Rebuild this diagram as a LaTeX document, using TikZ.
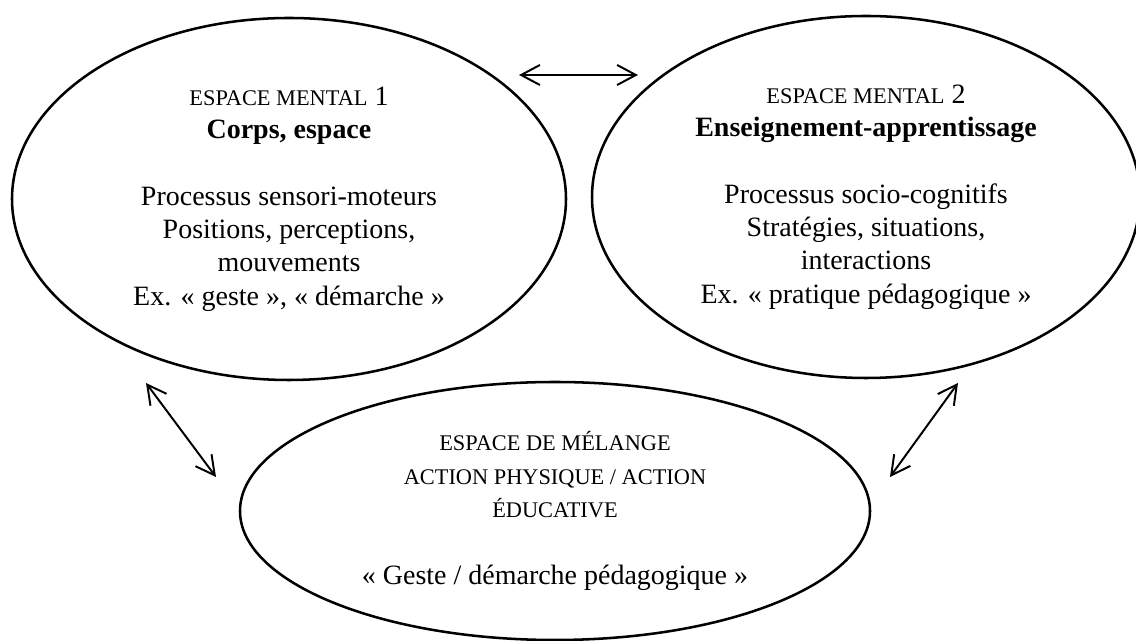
\documentclass[tikz,border=0pt]{standalone}
\usepackage{fontspec}
\setmainfont{Liberation Serif}
\usetikzlibrary{shapes.geometric,arrows.meta}
\newcommand{\petitcap}[1]{{\fontsize{15.9}{23.7}\selectfont #1}}

\begin{document}
\begin{tikzpicture}[
    bulle/.style={ellipse, draw, line width=1.8pt, inner sep=0pt, align=center,
      font=\fontsize{19.9}{23.7}\selectfont},
    lien/.style={{Straight Barb[length=0.47cm,width=0.5cm]}-{Straight Barb[length=0.47cm,width=0.5cm]}, line width=1.4pt}]
    \useasboundingbox (0,0) rectangle (28.4,16.025);

    % Espace mental 1 (left)
    \node[bulle, minimum width=13.85cm, minimum height=9.05cm] (m1) at (7.225,11.05)
      {\petitcap{ESPACE MENTAL} 1\\ \textbf{Corps, espace}\\[23.7pt]
       Processus sensori-moteurs\\ Positions, perceptions,\\ mouvements\\
       Ex. «~geste~», «~démarche~»};

    % Espace mental 2 (right, cut by the border)
    \node[bulle, minimum width=13.7cm, minimum height=9.05cm] (m2) at (21.65,11.1)
      {\petitcap{ESPACE MENTAL} 2\\ \textbf{Enseignement-apprentissage}\\[23.7pt]
       Processus socio-cognitifs\\ Stratégies, situations,\\ interactions\\
       Ex. «~pratique pédagogique~»};

    % Espace de melange (bottom)
    \node[bulle, minimum width=15.75cm, minimum height=6.45cm] (mel) at (13.875,3.25)
      {\petitcap{ESPACE DE MÉLANGE}\\ \petitcap{ACTION PHYSIQUE / ACTION}\\
       \petitcap{ÉDUCATIVE}\\[23.7pt]
       «~Geste / démarche pédagogique~»};

    % Double arrows between the spaces
    \coordinate (h1) at (12.975,14.15);
    \coordinate (h2) at (15.95,14.15);
    \draw[lien] (h1) -- (h2);

    \coordinate (g1) at (3.65,6.45);
    \coordinate (g2) at (5.4,4.1);
    \draw[lien] (g1) -- (g2);

    \coordinate (d1) at (23.95,6.45);
    \coordinate (d2) at (22.25,4.1);
    \draw[lien] (d1) -- (d2);
\end{tikzpicture}
\end{document}
